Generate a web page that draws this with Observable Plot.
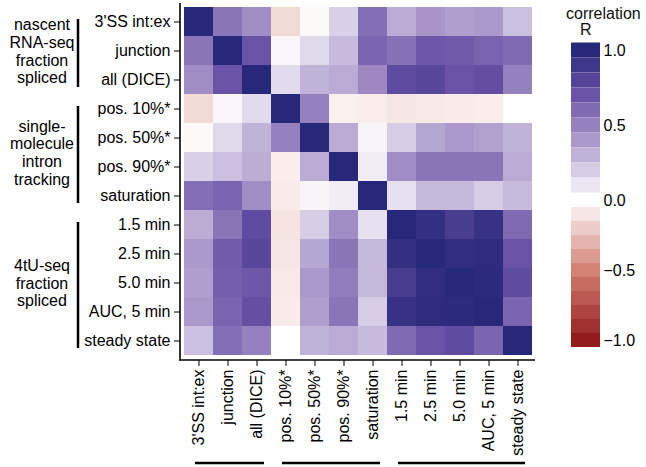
<!DOCTYPE html>
<html>
<head>
<meta charset="utf-8">
<script src="https://cdn.jsdelivr.net/npm/d3@7"></script>
<script src="https://cdn.jsdelivr.net/npm/@observablehq/plot@0.6"></script>
<style>
  body { margin: 0; background: #fff; }
  #wrap { position: relative; width: 646px; height: 467px; font-family: "Liberation Sans", Arial, sans-serif; }
  #wrap svg { position: absolute; top: 0; }
  .ttl { position: absolute; font-size: 16px; color: #111; line-height: 16px; }
</style>
</head>
<body>
<div id="wrap"></div>
<script>
const labels = ["3'SS int:ex", "junction", "all (DICE)", "pos. 10%*", "pos. 50%*", "pos. 90%*", "saturation", "1.5 min", "2.5 min", "5.0 min", "AUC, 5 min", "steady state"];
const corr = [
  [1.00, 0.55, 0.45, -0.15, -0.02, 0.18, 0.58, 0.33, 0.42, 0.38, 0.40, 0.25],
  [0.55, 1.00, 0.70, 0.03, 0.15, 0.27, 0.62, 0.57, 0.68, 0.67, 0.63, 0.60],
  [0.45, 0.70, 1.00, 0.14, 0.30, 0.33, 0.47, 0.75, 0.78, 0.70, 0.73, 0.50],
  [-0.15, 0.03, 0.14, 1.00, 0.50, -0.06, -0.07, -0.10, -0.09, -0.08, -0.07, 0.00],
  [-0.02, 0.15, 0.30, 0.50, 1.00, 0.33, 0.04, 0.20, 0.35, 0.40, 0.37, 0.30],
  [0.18, 0.25, 0.32, -0.07, 0.33, 1.00, 0.07, 0.45, 0.55, 0.55, 0.55, 0.33],
  [0.58, 0.62, 0.45, -0.08, 0.04, 0.07, 1.00, 0.12, 0.28, 0.28, 0.20, 0.27],
  [0.32, 0.55, 0.75, -0.11, 0.20, 0.45, 0.12, 1.00, 0.95, 0.85, 0.93, 0.60],
  [0.40, 0.66, 0.78, -0.10, 0.35, 0.55, 0.28, 0.95, 1.00, 0.96, 0.97, 0.70],
  [0.38, 0.65, 0.68, -0.09, 0.40, 0.52, 0.28, 0.85, 0.96, 1.00, 0.98, 0.75],
  [0.40, 0.62, 0.72, -0.08, 0.38, 0.55, 0.20, 0.93, 0.97, 0.98, 1.00, 0.62],
  [0.25, 0.58, 0.50, 0.00, 0.30, 0.33, 0.27, 0.60, 0.70, 0.75, 0.62, 1.00]
];
const groupNames = [["nascent", "RNA-seq", "fraction", "spliced"], ["single-", "molecule", "intron", "tracking"], ["4tU-seq", "fraction", "spliced"]];
const groupFirst = [0, 3, 7];
const groupLast = [2, 6, 11];
const legendValues = [1.0, 0.9, 0.8, 0.7, 0.6, 0.5, 0.4, 0.3, 0.2, 0.1, -0.1, -0.2, -0.3, -0.4, -0.5, -0.6, -0.7, -0.8, -0.9, -1.0];
const legendTicks = [-1, -0.5, 0, 0.5, 1];

const colorOpts = {
  type: "linear",
  domain: [-1, -0.5, 0, 0.4, 0.7, 1],
  range: ["#931b1c", "#d38274", "#ffffff", "#ac99cb", "#6a52a6", "#28287a"]
};

const cells = [];
corr.forEach((row, i) => row.forEach((v, j) => cells.push({row: labels[i], col: labels[j], v})));

const font = '"Liberation Sans", Arial, sans-serif';

const chart = Plot.plot({
  width: 646, height: 467,
  marginLeft: 183, marginRight: 114, marginTop: 5, marginBottom: 110,
  style: {fontFamily: font, fontSize: "16px", color: "#000", background: "transparent"},
  x: {domain: labels, padding: 0, label: null},
  y: {domain: labels, padding: 0, label: null},
  color: colorOpts,
  marks: [
    Plot.cell(cells, {x: "col", y: "row", fill: "v", inset: 0}),
    Plot.axisX({anchor: "bottom", tickRotate: -90, tickSize: 6, tickPadding: 3, dy: 3, label: null, fontSize: 16}),
    Plot.axisY({anchor: "left", tickSize: 6, tickPadding: 4, dx: -3, label: null, fontSize: 16})
  ]
});

const wrap = document.getElementById("wrap");
wrap.appendChild(chart);

// axis lines and group annotations using the chart's scales
const xs = chart.scale("x"), ys = chart.scale("y");
const bw = ys.bandwidth;
const svg = d3.select(chart);
const yTop = ys.range[0], yBot = ys.range[1];
const xL = xs.range[0], xR = xs.range[1];
const g = svg.append("g").attr("stroke", "#000").attr("fill", "none");
g.append("line").attr("x1", xL - 3).attr("x2", xL - 3).attr("y1", yTop - 2).attr("y2", yBot + 3.5).attr("stroke-width", 1.6);
g.append("line").attr("x1", xL - 3.8).attr("x2", xR + 3).attr("y1", yBot + 3).attr("y2", yBot + 3).attr("stroke-width", 1.6);

groupFirst.forEach((f, k) => {
  const l = groupLast[k];
  const y1 = ys.apply(labels[f]) + 12, y2 = ys.apply(labels[l]) + bw - 7;
  g.append("line").attr("x1", 78).attr("x2", 78).attr("y1", y1).attr("y2", y2).attr("stroke-width", 2.5);
  const x1 = xs.apply(labels[f]) + 11, x2 = xs.apply(labels[l]) + xs.bandwidth - 7;
  g.append("line").attr("x1", x1).attr("x2", x2).attr("y1", 463).attr("y2", 463).attr("stroke-width", 2.5);
  const names = groupNames[k];
  const cy = (ys.apply(labels[f]) + ys.apply(labels[l]) + bw) / 2 + 2;
  const lh = 17.6;
  names.forEach((n, m) => {
    svg.append("text").attr("x", 42).attr("y", cy + (m - (names.length - 1) / 2) * lh)
      .attr("text-anchor", "middle").attr("dominant-baseline", "middle")
      .attr("font-family", font).attr("font-size", 16).attr("fill", "#000").text(n);
  });
});

// legend: positive half of the bar is slightly taller than the negative half
const stretch = v => (v >= 0 ? v * 150 / 140 : v);
const legend = Plot.plot({
  width: 146, height: 467,
  marginLeft: 71, marginRight: 46, marginTop: 0, marginBottom: 0,
  style: {fontFamily: font, fontSize: "16px", color: "#000", background: "transparent"},
  x: {domain: [0, 1], axis: null},
  y: {domain: [-1, 150 / 140], range: [340, 50], axis: null},
  color: colorOpts,
  marks: [
    Plot.rect(legendValues, {x1: 0, x2: 1, y1: d => stretch(d - 0.05 * Math.sign(d)), y2: d => stretch(d + 0.05 * Math.sign(d)), fill: d => d}),
    Plot.text(legendTicks, {x: 1, y: stretch, text: d3.format(".1f"), textAnchor: "start", dx: 3, fontSize: 16, fill: "#000"})
  ]
});
legend.style.left = "500px";
wrap.appendChild(legend);

const t1 = document.createElement("div");
t1.className = "ttl"; t1.textContent = "correlation";
t1.style.left = "566px"; t1.style.top = "6px";
wrap.appendChild(t1);
const t2 = document.createElement("div");
t2.className = "ttl"; t2.textContent = "R";
t2.style.left = "580px"; t2.style.top = "22px";
wrap.appendChild(t2);
</script>
</body>
</html>
